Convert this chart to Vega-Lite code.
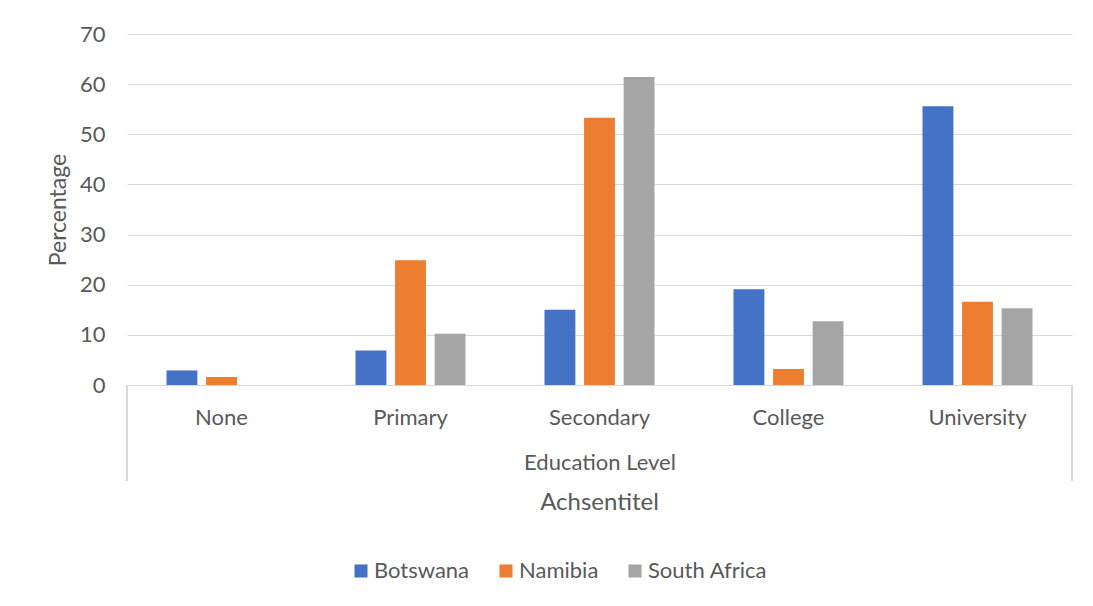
{
  "$schema": "https://vega.github.io/schema/vega-lite/v6.json",
  "autosize": {"type": "none"},
  "width": 945,
  "height": 351,
  "padding": {"left": 127, "top": 34, "right": 21, "bottom": 221},
  "background": "white",
  "config": {
    "view": {"stroke": null},
    "font": "Lato",
    "axis": {"labelColor": "#595959", "titleColor": "#595959", "titleFontWeight": "normal"},
    "title": {"color": "#595959", "fontWeight": "normal"}
  },
  "title": {"text": "Achsentitel", "orient": "bottom", "anchor": "middle", "fontSize": 24, "font": "Lato", "offset": -91},
  "data": {
    "values": [
      {"level": "None", "country": "Botswana", "pct": 2.9},
      {"level": "None", "country": "Namibia", "pct": 1.6},
      {"level": "None", "country": "South Africa", "pct": 0},
      {"level": "Primary", "country": "Botswana", "pct": 6.9},
      {"level": "Primary", "country": "Namibia", "pct": 24.9},
      {"level": "Primary", "country": "South Africa", "pct": 10.2},
      {"level": "Secondary", "country": "Botswana", "pct": 15.0},
      {"level": "Secondary", "country": "Namibia", "pct": 53.3},
      {"level": "Secondary", "country": "South Africa", "pct": 61.4},
      {"level": "College", "country": "Botswana", "pct": 19.1},
      {"level": "College", "country": "Namibia", "pct": 3.2},
      {"level": "College", "country": "South Africa", "pct": 12.7},
      {"level": "University", "country": "Botswana", "pct": 55.6},
      {"level": "University", "country": "Namibia", "pct": 16.6},
      {"level": "University", "country": "South Africa", "pct": 15.3}
    ]
  },
  "layer": [
    {
      "mark": {"type": "bar"},
      "encoding": {
        "x": {
          "field": "level",
          "type": "nominal",
          "sort": ["None", "Primary", "Secondary", "College", "University"],
          "scale": {"paddingInner": 0.418, "paddingOuter": 0.209},
          "axis": {
            "title": "Education Level",
            "titleFontSize": 22,
            "titlePadding": 24,
            "labelFontSize": 22,
            "labelAngle": 0,
            "labelPadding": 22,
            "ticks": false,
            "tickSize": 0,
            "domainColor": "#d9d9d9",
            "domainWidth": 1,
            "grid": false
          }
        },
        "xOffset": {
          "field": "country",
          "type": "nominal",
          "sort": ["Botswana", "Namibia", "South Africa"],
          "scale": {"paddingInner": 0.22, "paddingOuter": 0}
        },
        "y": {
          "field": "pct",
          "type": "quantitative",
          "scale": {"domain": [0, 70], "nice": false},
          "axis": {
            "title": "Percentage",
            "titleFontSize": 23,
            "titlePadding": 9,
            "labelFontSize": 22,
            "labelPadding": 22,
            "values": [0, 10, 20, 30, 40, 50, 60, 70],
            "ticks": false,
            "tickSize": 0,
            "domain": false,
            "gridColor": "#d9d9d9",
            "gridWidth": 1
          }
        },
        "color": {
          "field": "country",
          "type": "nominal",
          "sort": ["Botswana", "Namibia", "South Africa"],
          "scale": {"range": ["#4472C4", "#ED7D31", "#A5A5A5"]},
          "legend": {
            "title": null,
            "orient": "none",
            "direction": "horizontal",
            "legendX": 223,
            "legendY": 526,
            "symbolType": "square",
            "symbolSize": 170,
            "symbolStrokeWidth": 0,
            "labelFontSize": 22,
            "labelColor": "#595959",
            "labelOffset": 2,
            "columnPadding": 25,
            "padding": 0
          }
        }
      }
    },
    {
      "mark": {"type": "rule", "color": "#d9d9d9", "strokeWidth": 1},
      "encoding": {
        "x": {"datum": "None", "type": "nominal", "bandPosition": -0.359},
        "y": {"datum": 0, "type": "quantitative"},
        "y2": {"datum": -19}
      }
    },
    {
      "mark": {"type": "rule", "color": "#d9d9d9", "strokeWidth": 1},
      "encoding": {
        "x": {"datum": "University", "type": "nominal", "bandPosition": 1.359},
        "y": {"datum": 0, "type": "quantitative"},
        "y2": {"datum": -19}
      }
    }
  ]
}
